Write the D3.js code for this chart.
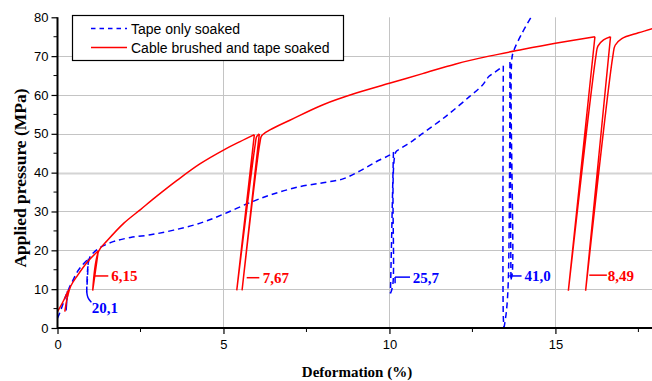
<!DOCTYPE html>
<html>
<head>
<meta charset="utf-8">
<script src="https://cdn.jsdelivr.net/npm/d3@7"></script>
<style>
  html, body { margin: 0; padding: 0; background: #fff; }
  svg { display: block; }
</style>
</head>
<body>
<div id="chart"></div>
<script>
// Tape only soaked (blue dashed) : [deformation %, pressure MPa]
const tapeOnly = [
  [0, 2.5], [0.1, 4.6], [0.22, 7.6], [0.3, 9.5], [0.26, 4.5], [0.33, 9.8],
  [0.45, 12], [0.6, 14.5], [0.78, 16.5], [0.93, 17.8], [0.88, 9.2], [0.96, 17.9],
  [1.1, 19.5], [1.3, 20.8], [1.7, 22.3], [2.2, 23.3], [2.8, 24], [3.5, 25.2],
  [4.3, 27], [5.0, 29.3], [5.8, 32.3], [6.5, 34.5], [7.3, 36.4], [8.0, 37.4],
  [8.6, 38.4], [9.1, 40.4], [9.6, 42.8], [10.0, 44.5], [10.12, 45.3],
  [10.03, 8.9], [10.1, 11], [10.19, 45.3], [10.3, 46], [10.7, 48.2], [11.0, 50.1],
  [11.7, 54.5], [12.4, 59.5], [12.8, 62.5], [13.0, 64.8], [13.2, 66], [13.43, 67.5],
  [13.43, 3], [13.45, 0], [13.52, 4], [13.58, 12], [13.63, 68.5],
  [13.66, 12.5], [13.7, 14], [13.69, 69.5], [13.75, 71.5], [14.0, 76], [14.3, 80.5]
];

// Cable brushed and tape soaked (red solid)
const cableBrushed = [
  [0, 4.2], [0.15, 6.5], [0.33, 9.8], [0.22, 4.2], [0.3, 8], [0.4, 10.8],
  [0.6, 13.5], [0.9, 17], [1.23, 19.9], [1.06, 9.6], [1.24, 19.8], [1.5, 22.5],
  [2.0, 27], [2.5, 30.5], [3.0, 34], [3.6, 38], [4.3, 42.3], [5.0, 45.8],
  [5.5, 48], [5.93, 49.8], [5.40, 9.7], [5.96, 47.5], [6.0, 49.3], [6.08, 50.0],
  [5.56, 9.7], [6.1, 47.8], [6.15, 49.5], [6.4, 51], [7.0, 53.5], [8.0, 57.5],
  [9.0, 60.5], [10.0, 63], [11.0, 65.5], [12.0, 68], [13.0, 70], [14.0, 71.7],
  [15.0, 73.3], [16.19, 75], [15.39, 9.6], [16.22, 70], [16.28, 72.6],
  [16.45, 74.2], [16.66, 75], [15.91, 9.6], [16.73, 70], [16.8, 72.8],
  [17.0, 74.5], [17.5, 76], [18.0, 77.3]
];

// Cycle annotations: text, colour, leader [x1, x2, y], text x
const labels = [
  { text: '6,15', color: '#ff0000', x1: 1.13, x2: 1.53, y: 13.4, tx: 1.62 },
  { text: '7,67', color: '#ff0000', x1: 5.70, x2: 6.08, y: 12.95, tx: 6.18 },
  { text: '25,7', color: '#0000ff', x1: 10.17, x2: 10.62, y: 13.1, tx: 10.7 },
  { text: '41,0', color: '#0000ff', x1: 13.61, x2: 13.98, y: 13.4, tx: 14.07 },
  { text: '8,49', color: '#ff0000', x1: 16.02, x2: 16.55, y: 13.6, tx: 16.58 }
];

const xTicks = [0, 5, 10, 15];
const xMinor = [2.5, 7.5, 12.5, 17.5];
const yTicks = [0, 10, 20, 30, 40, 50, 60, 70, 80];
const yMinor = [5, 15, 25, 35, 45, 55, 65, 75];

const W = 652, H = 381;
const x = d3.scaleLinear().domain([0, 18]).range([57.5, 655]);
const y = d3.scaleLinear().domain([0, 80]).range([328, 17.3]);

const svg = d3.select('#chart').append('svg').attr('width', W).attr('height', H);

svg.append('defs').append('clipPath').attr('id', 'plot')
  .append('rect').attr('x', x(0)).attr('y', y(80))
  .attr('width', W - x(0)).attr('height', y(0) - y(80));

// grid
const grid = svg.append('g').attr('stroke', '#c4c4c4').attr('stroke-width', 1);
grid.selectAll('.gx').data(xTicks.filter(d => d > 0)).join('line')
  .attr('x1', d => Math.round(x(d)) + 0.5).attr('x2', d => Math.round(x(d)) + 0.5)
  .attr('y1', y(80)).attr('y2', y(0));
grid.selectAll('.gy').data(yTicks.filter(d => d > 0 && d < 80)).join('line')
  .attr('x1', x(0)).attr('x2', W)
  .attr('y1', d => Math.round(y(d)) + 0.5).attr('y2', d => Math.round(y(d)) + 0.5)
  .attr('stroke-width', d => d === 40 ? 2 : 1)
  .attr('stroke', d => d === 40 ? '#d4d4d4' : '#c4c4c4');

// curves: smooth each loading/unloading branch, keep sharp corners at reversals
const smooth = d3.line().curve(d3.curveCatmullRom.alpha(0.5)).x(d => x(d[0])).y(d => y(d[1]));
function branches(pts) {
  const runs = [[pts[0]]];
  for (let i = 1; i < pts.length; i++) {
    runs[runs.length - 1].push(pts[i]);
    if (i < pts.length - 1) {
      const ax = x(pts[i][0]) - x(pts[i - 1][0]), ay = y(pts[i][1]) - y(pts[i - 1][1]);
      const bx = x(pts[i + 1][0]) - x(pts[i][0]), by = y(pts[i + 1][1]) - y(pts[i][1]);
      const cos = (ax * bx + ay * by) / (Math.hypot(ax, ay) * Math.hypot(bx, by));
      if (cos < 0.5) runs.push([pts[i]]);
    }
  }
  return runs.map(r => smooth(r)).join('');
}
const curves = svg.append('g').attr('clip-path', 'url(#plot)');
curves.append('path').attr('d', branches(tapeOnly))
  .attr('fill', 'none').attr('stroke', '#0000ff').attr('stroke-width', 1.5)
  .attr('stroke-dasharray', '6,4');
curves.append('path').attr('d', branches(cableBrushed))
  .attr('fill', 'none').attr('stroke', '#ff0000').attr('stroke-width', 1.5);

// annotations
const ann = svg.append('g');
labels.forEach(l => {
  ann.append('line')
    .attr('x1', x(l.x1)).attr('x2', x(l.x2)).attr('y1', y(l.y)).attr('y2', y(l.y))
    .attr('stroke', l.color).attr('stroke-width', 1.5);
  if (l.text === '25,7') {
    ann.append('line')
      .attr('x1', x(l.x1)).attr('x2', x(l.x1)).attr('y1', y(l.y)).attr('y2', y(l.y - 1.6))
      .attr('stroke', l.color).attr('stroke-width', 1.5);
  }
  ann.append('text').attr('x', x(l.tx)).attr('y', y(l.y)).attr('dy', '0.36em')
    .attr('fill', l.color).attr('font-family', '"Liberation Serif", "Times New Roman", serif')
    .attr('font-weight', 'bold').attr('font-size', 15).text(l.text);
});
// hooked leader for 20,1
ann.append('path')
  .attr('d', d3.line().curve(d3.curveBasis)([[x(0.88), y(9.4)], [x(0.9), y(7.8)], [x(1.02), y(6.6)]]))
  .attr('fill', 'none').attr('stroke', '#0000ff').attr('stroke-width', 1.5);
ann.append('text').attr('x', x(1.03)).attr('y', y(3.8))
  .attr('fill', '#0000ff').attr('font-family', '"Liberation Serif", "Times New Roman", serif')
  .attr('font-weight', 'bold').attr('font-size', 15).text('20,1');

// axes
const xAxis = svg.append('g').attr('transform', `translate(0,${y(0)})`)
  .call(d3.axisBottom(x).tickValues(xTicks).tickSize(6).tickPadding(6).tickFormat(d3.format('d')));
xAxis.append('g').selectAll('line').data(xMinor).join('line')
  .attr('x1', d => x(d)).attr('x2', d => x(d)).attr('y1', 0).attr('y2', 4).attr('stroke', '#000');
const yAxis = svg.append('g').attr('transform', `translate(${x(0)},0)`)
  .call(d3.axisLeft(y).tickValues(yTicks).tickSize(6).tickPadding(3).tickFormat(d3.format('d')));
yAxis.append('g').selectAll('line').data(yMinor).join('line')
  .attr('x1', 0).attr('x2', -4).attr('y1', d => y(d)).attr('y2', d => y(d)).attr('stroke', '#000');

[xAxis, yAxis].forEach(a => {
  a.select('.domain').attr('stroke-width', 2).attr('d', null);
  a.selectAll('.tick line').attr('stroke-width', 1.2);
  a.selectAll('text').attr('font-family', '"Liberation Sans", Arial, sans-serif')
    .attr('font-size', 13).attr('fill', '#000');
});
svg.append('line').attr('x1', x(0)).attr('x2', W).attr('y1', y(0)).attr('y2', y(0))
  .attr('stroke', '#000').attr('stroke-width', 2);
svg.append('line').attr('x1', x(0)).attr('x2', x(0)).attr('y1', y(80)).attr('y2', y(0) + 1)
  .attr('stroke', '#000').attr('stroke-width', 2);

// axis titles
svg.append('text').attr('x', 357).attr('y', 377).attr('text-anchor', 'middle')
  .attr('font-family', '"Liberation Serif", "Times New Roman", serif')
  .attr('font-weight', 'bold').attr('font-size', 15).text('Deformation (%)');
svg.append('text').attr('transform', 'translate(26,178) rotate(-90)').attr('text-anchor', 'middle')
  .attr('font-family', '"Liberation Serif", "Times New Roman", serif')
  .attr('font-weight', 'bold').attr('font-size', 17.5).text('Applied pressure (MPa)');

// legend
const lg = svg.append('g');
lg.append('rect').attr('x', 72.5).attr('y', 15.5).attr('width', 271).attr('height', 45)
  .attr('fill', '#fff').attr('stroke', '#000').attr('stroke-width', 1.2);
const legendItems = [
  { name: 'Tape only soaked', color: '#0000ff', dash: '4.5,4' },
  { name: 'Cable brushed and tape soaked', color: '#ff0000', dash: null }
];
legendItems.forEach((it, i) => {
  const yy = 28.5 + i * 19;
  lg.append('line').attr('x1', 91).attr('x2', 127).attr('y1', yy).attr('y2', yy)
    .attr('stroke', it.color).attr('stroke-width', 1.5).attr('stroke-dasharray', it.dash);
  lg.append('text').attr('x', 131).attr('y', yy).attr('dy', '0.36em')
    .attr('font-family', '"Liberation Sans", Arial, sans-serif').attr('font-size', 14)
    .text(it.name);
});
</script>
</body>
</html>
